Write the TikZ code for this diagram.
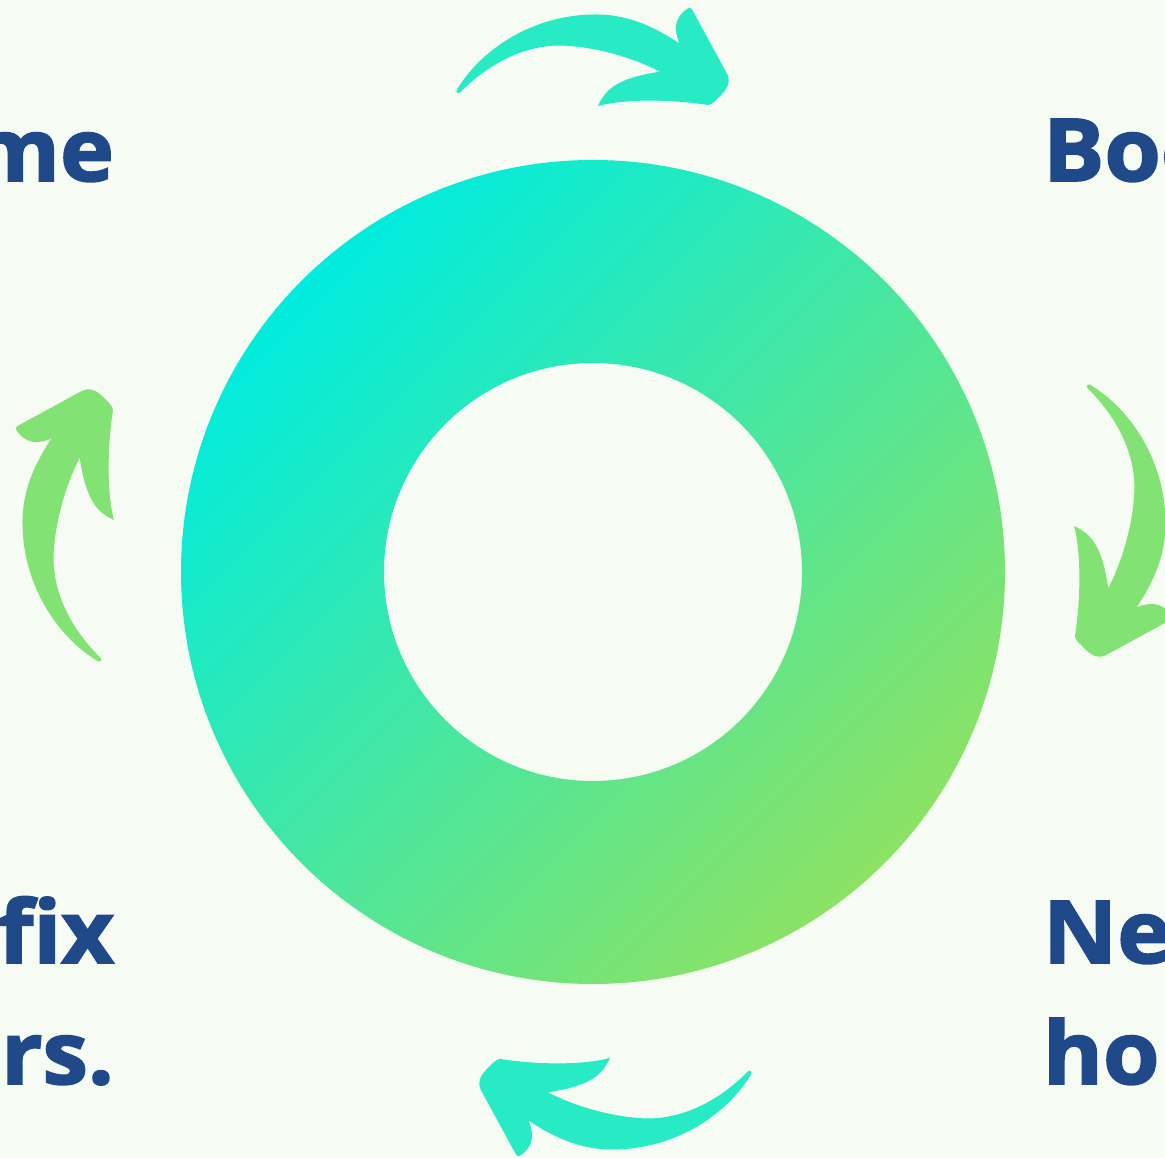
\documentclass[tikz,border=0pt]{standalone}
\usepackage{fontspec}
\setmainfont{Open Sans}
\newfontfamily\lblfont{Open Sans}[BoldFeatures={FakeBold=2}]
\definecolor{bg}{RGB}{246,252,243}
\definecolor{txt}{RGB}{31,73,137}
\definecolor{arrcyan}{RGB}{38,235,197}
\definecolor{arrgreen}{RGB}{130,227,116}
\definecolor{ringA}{RGB}{0,236,222}
\definecolor{ringB}{RGB}{140,226,100}
\tikzset{
  lbl/.style={inner sep=0pt, outer sep=0pt, text=txt, xscale=1.05, transform shape,
    font=\fontsize{87}{121}\selectfont\lblfont\bfseries},
  curvearrow/.pic={
    \fill[#1] (-137.3,-30) .. controls (-112,12) and (-60,45) .. (0,45.5)
      .. controls (35,46) and (62,32) .. (85.3,16.7)
      .. controls (80,30) and (80,42) .. (93,51)
      .. controls (95,53) and (97,53) .. (98,50.5)
      -- (131.5,-11) .. controls (138,-21) and (134,-29) .. (124,-38)
      .. controls (120,-42) and (118,-44.5) .. (114,-45)
      .. controls (75,-39) and (30,-39) .. (4,-46)
      .. controls (12,-28) and (25,-18) .. (66,-11.7)
      .. controls (40,2) and (0,14) .. (-35,14.5)
      .. controls (-75,14) and (-110,-8) .. (-134,-32.7)
      .. controls (-136,-34) and (-138,-33) .. cycle;
  }
}
\begin{document}
\begin{tikzpicture}[x=1pt,y=1pt]
\useasboundingbox (0,0) rectangle (1165,1158);
\clip (0,0) rectangle (1165,1158);
\fill[bg] (0,0) rectangle (1165,1158);
% ring
\shade[even odd rule, left color=ringA, right color=ringB, shading angle=45]
  (593,586) circle[radius=412] (593,586) circle[radius=209];
% arrows
\pic (arrtop) at (594,1098) {curvearrow=arrcyan};
\pic[rotate=-90] (arrright) at (1120,636) {curvearrow=arrgreen};
\pic[rotate=180] (arrbottom) at (614,54) {curvearrow=arrcyan};
\pic[rotate=90] (arrleft) at (68,634) {curvearrow=arrgreen};
% texts
\node[lbl, anchor=base east] (tl) at (114,977) {me};
\node[lbl, anchor=base west] (tr) at (1043,977) {Boo};
\node[lbl, anchor=base east] (bl1) at (114,195) {fix};
\node[lbl, anchor=base east] (bl2) at (114,74) {rs.};
\node[lbl, anchor=base west] (br1) at (1043,195) {Ne};
\node[lbl, anchor=base west] (br2) at (1043,74) {hom};
\end{tikzpicture}
\end{document}
